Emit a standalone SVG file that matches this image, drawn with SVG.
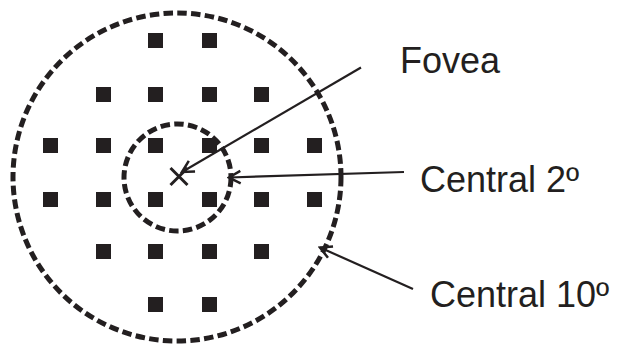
<svg xmlns="http://www.w3.org/2000/svg" width="619" height="345" viewBox="0 0 619 345">
<defs>
<style>
.ring{fill:none;stroke:#231f20;stroke-width:5;stroke-dasharray:9.5 4.3}
.sq{fill:#231f20}
.lead{fill:none;stroke:#231f20;stroke-width:2.2}
.lbl{font-family:"Liberation Sans",Arial,sans-serif;font-size:36px;fill:#231f20}
</style>
<marker id="open" viewBox="0 0 16 16" refX="14" refY="8" markerWidth="16" markerHeight="16" markerUnits="userSpaceOnUse" orient="auto">
<path d="M2.5 1.8 L14 8 L2.5 14.2" fill="none" stroke="#231f20" stroke-width="2.5"/>
</marker>
</defs>
<rect width="619" height="345" fill="#fff"/>
<g id="outer-field">
<circle class="ring" cx="177" cy="177" r="164"/>
</g>
<g id="central-2">
<circle class="ring" cx="177.5" cy="177.5" r="53.5"/>
</g>
<g id="grid">
<rect class="sq" x="148" y="33" width="15" height="15"/>
<rect class="sq" x="202" y="33" width="15" height="15"/>
<rect class="sq" x="96" y="87" width="15" height="15"/>
<rect class="sq" x="148" y="87" width="15" height="15"/>
<rect class="sq" x="202" y="87" width="15" height="15"/>
<rect class="sq" x="254" y="87" width="15" height="15"/>
<rect class="sq" x="43" y="138" width="15" height="15"/>
<rect class="sq" x="96" y="138" width="15" height="15"/>
<rect class="sq" x="148" y="138" width="15" height="15"/>
<rect class="sq" x="202" y="138" width="15" height="15"/>
<rect class="sq" x="254" y="138" width="15" height="15"/>
<rect class="sq" x="307" y="138" width="15" height="15"/>
<rect class="sq" x="43" y="192" width="15" height="15"/>
<rect class="sq" x="96" y="192" width="15" height="15"/>
<rect class="sq" x="148" y="192" width="15" height="15"/>
<rect class="sq" x="202" y="192" width="15" height="15"/>
<rect class="sq" x="254" y="192" width="15" height="15"/>
<rect class="sq" x="307" y="192" width="15" height="15"/>
<rect class="sq" x="96" y="244" width="15" height="15"/>
<rect class="sq" x="148" y="244" width="15" height="15"/>
<rect class="sq" x="202" y="244" width="15" height="15"/>
<rect class="sq" x="254" y="244" width="15" height="15"/>
<rect class="sq" x="148" y="297" width="15" height="15"/>
<rect class="sq" x="202" y="297" width="15" height="15"/>
</g>
<g id="fovea-mark">
<path d="M170.5 168 L187.5 185 M187.5 168 L170.5 185" stroke="#231f20" stroke-width="3" fill="none"/>
</g>
<g id="connectors">
<line class="lead" x1="361" y1="67.5" x2="182" y2="172" marker-end="url(#open)"/>
<line class="lead" x1="404" y1="172" x2="229" y2="177.5" marker-end="url(#open)"/>
<line class="lead" x1="413" y1="289" x2="320" y2="247.5" marker-end="url(#open)"/>
</g>
<g id="label-fovea"><text class="lbl" x="400" y="73">Fovea</text></g>
<g id="label-central2"><text class="lbl" x="420" y="192">Central 2º</text></g>
<g id="label-central10"><text class="lbl" x="430" y="307">Central 10º</text></g>
</svg>
